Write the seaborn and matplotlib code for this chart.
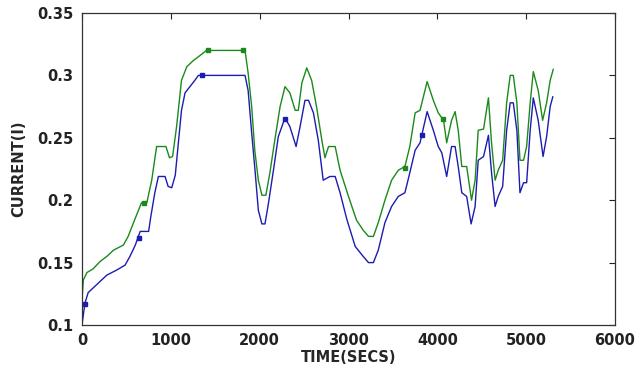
import numpy as np
import pandas as pd
import matplotlib
matplotlib.use("Agg")
import matplotlib.pyplot as plt
import seaborn as sns

# blue trace (lower)
blue_t = [0, 15, 35, 70, 145, 205, 280, 390, 485, 540, 600, 655, 750, 775, 820,
          860, 935, 970, 1010, 1050, 1085, 1120, 1160, 1215, 1270, 1310, 1835,
          1870, 1910, 1950, 1985, 2025, 2060, 2100, 2155, 2210, 2285, 2340, 2410,
          2455, 2510, 2550, 2605, 2660, 2715, 2790, 2850, 2905, 2980, 3075, 3165,
          3225, 3280, 3335, 3410, 3485, 3560, 3635, 3690, 3750, 3805, 3885, 3955,
          4010, 4050, 4105, 4160, 4200, 4235, 4275, 4330, 4380, 4425, 4460, 4520,
          4575, 4610, 4650, 4685, 4735, 4780, 4820, 4855, 4895, 4930, 4970, 5005,
          5045, 5080, 5135, 5190, 5230, 5270, 5300]
blue_v = [0.100, 0.108, 0.118, 0.126, 0.131, 0.135, 0.140, 0.144, 0.148, 0.155,
          0.164, 0.175, 0.175, 0.187, 0.206, 0.219, 0.219, 0.211, 0.210, 0.220,
          0.246, 0.272, 0.286, 0.291, 0.296, 0.300, 0.300, 0.288, 0.254, 0.222,
          0.192, 0.181, 0.181, 0.198, 0.224, 0.251, 0.266, 0.259, 0.243, 0.259,
          0.280, 0.280, 0.270, 0.248, 0.216, 0.219, 0.219, 0.206, 0.185, 0.163,
          0.155, 0.150, 0.150, 0.160, 0.182, 0.195, 0.203, 0.206, 0.222, 0.240,
          0.246, 0.271, 0.256, 0.243, 0.238, 0.219, 0.243, 0.243, 0.227, 0.206,
          0.203, 0.181, 0.195, 0.232, 0.235, 0.252, 0.222, 0.195, 0.203, 0.211,
          0.256, 0.278, 0.278, 0.256, 0.206, 0.214, 0.214, 0.256, 0.282, 0.264,
          0.235, 0.251, 0.275, 0.283]

# green trace (upper)
green_t = [0, 15, 55, 125, 205, 280, 355, 465, 520, 580, 670, 730, 785, 840, 945,
           985, 1020, 1065, 1120, 1180, 1255, 1330, 1400, 1835, 1870, 1910, 1945,
           1985, 2025, 2070, 2115, 2170, 2230, 2285, 2340, 2400, 2435, 2475, 2530,
           2585, 2640, 2700, 2735, 2775, 2850, 2905, 3000, 3090, 3165, 3225, 3280,
           3335, 3410, 3485, 3560, 3635, 3690, 3750, 3805, 3885, 3955, 4010, 4070,
           4105, 4160, 4200, 4235, 4275, 4330, 4385, 4425, 4460, 4520, 4575, 4610,
           4650, 4685, 4735, 4780, 4820, 4855, 4895, 4930, 4970, 5005, 5045, 5080,
           5135, 5185, 5230, 5270, 5305]
green_v = [0.120, 0.136, 0.142, 0.145, 0.151, 0.155, 0.160, 0.164, 0.171, 0.182,
           0.198, 0.198, 0.216, 0.243, 0.243, 0.234, 0.235, 0.259, 0.296, 0.307,
           0.312, 0.316, 0.320, 0.320, 0.302, 0.275, 0.240, 0.216, 0.204, 0.204,
           0.222, 0.248, 0.275, 0.291, 0.286, 0.272, 0.272, 0.294, 0.306, 0.296,
           0.275, 0.248, 0.234, 0.243, 0.243, 0.224, 0.203, 0.184, 0.176, 0.171,
           0.171, 0.182, 0.200, 0.216, 0.224, 0.227, 0.243, 0.270, 0.272, 0.295,
           0.280, 0.270, 0.264, 0.246, 0.264, 0.271, 0.256, 0.227, 0.227, 0.200,
           0.216, 0.256, 0.257, 0.282, 0.246, 0.216, 0.224, 0.232, 0.278, 0.300,
           0.300, 0.278, 0.232, 0.232, 0.243, 0.278, 0.303, 0.288, 0.264, 0.278,
           0.296, 0.305]

# small square marks seen on the traces
green_mk_t = [700, 1420, 1810, 3640, 4060]
green_mk_v = [0.198, 0.320, 0.320, 0.226, 0.265]
blue_mk_t = [30, 640, 1350, 2290, 3830]
blue_mk_v = [0.117, 0.170, 0.300, 0.265, 0.252]

x_ticks = [0, 1000, 2000, 3000, 4000, 5000, 6000]
y_ticks = [0.1, 0.15, 0.2, 0.25, 0.3, 0.35]
y_labels = ["0.1", "0.15", "0.2", "0.25", "0.3", "0.35"]

blue_col = "#1c1cb0"
green_col = "#1b8a1b"

sns.set_style("white")
plt.rcParams['font.family'] = ['DejaVu Sans']

blue = pd.DataFrame({"t": blue_t, "v": blue_v})
green = pd.DataFrame({"t": green_t, "v": green_v})

fig = plt.figure(figsize=(6.38, 3.69), dpi=100)
ax = fig.add_axes([0.1285, 0.1192, 0.8355, 0.8456])

sns.lineplot(data=green, x="t", y="v", ax=ax, color=green_col, lw=1.0,
             estimator=None, sort=False)
sns.lineplot(data=blue, x="t", y="v", ax=ax, color=blue_col, lw=1.0,
             estimator=None, sort=False)
ax.plot(green_mk_t, green_mk_v, ls="none", marker="s", ms=3.5, color=green_col)
ax.plot(blue_mk_t, blue_mk_v, ls="none", marker="s", ms=3.5, color=blue_col)

ax.set_xlim(0, 6000)
ax.set_ylim(0.1, 0.35)
ax.set_xticks(x_ticks)
ax.set_xticklabels([str(t) for t in x_ticks], fontsize=10.5, fontweight="bold")
ax.set_yticks(y_ticks)
ax.set_yticklabels(y_labels, fontsize=10.5, fontweight="bold")
ax.tick_params(direction="in", length=4, width=0.8, top=True, right=True,
               colors="#222222")
ax.tick_params(axis="x", pad=6)
ax.tick_params(axis="y", pad=6)
for s in ax.spines.values():
    s.set_color("#333333")
    s.set_linewidth(0.9)

ax.set_xlabel("TIME(SECS)", fontsize=10.5, fontweight="bold", labelpad=1)
ax.set_ylabel("CURRENT(I)", fontsize=10.5, fontweight="bold", labelpad=8)

fig.savefig("out.png", dpi=100)
